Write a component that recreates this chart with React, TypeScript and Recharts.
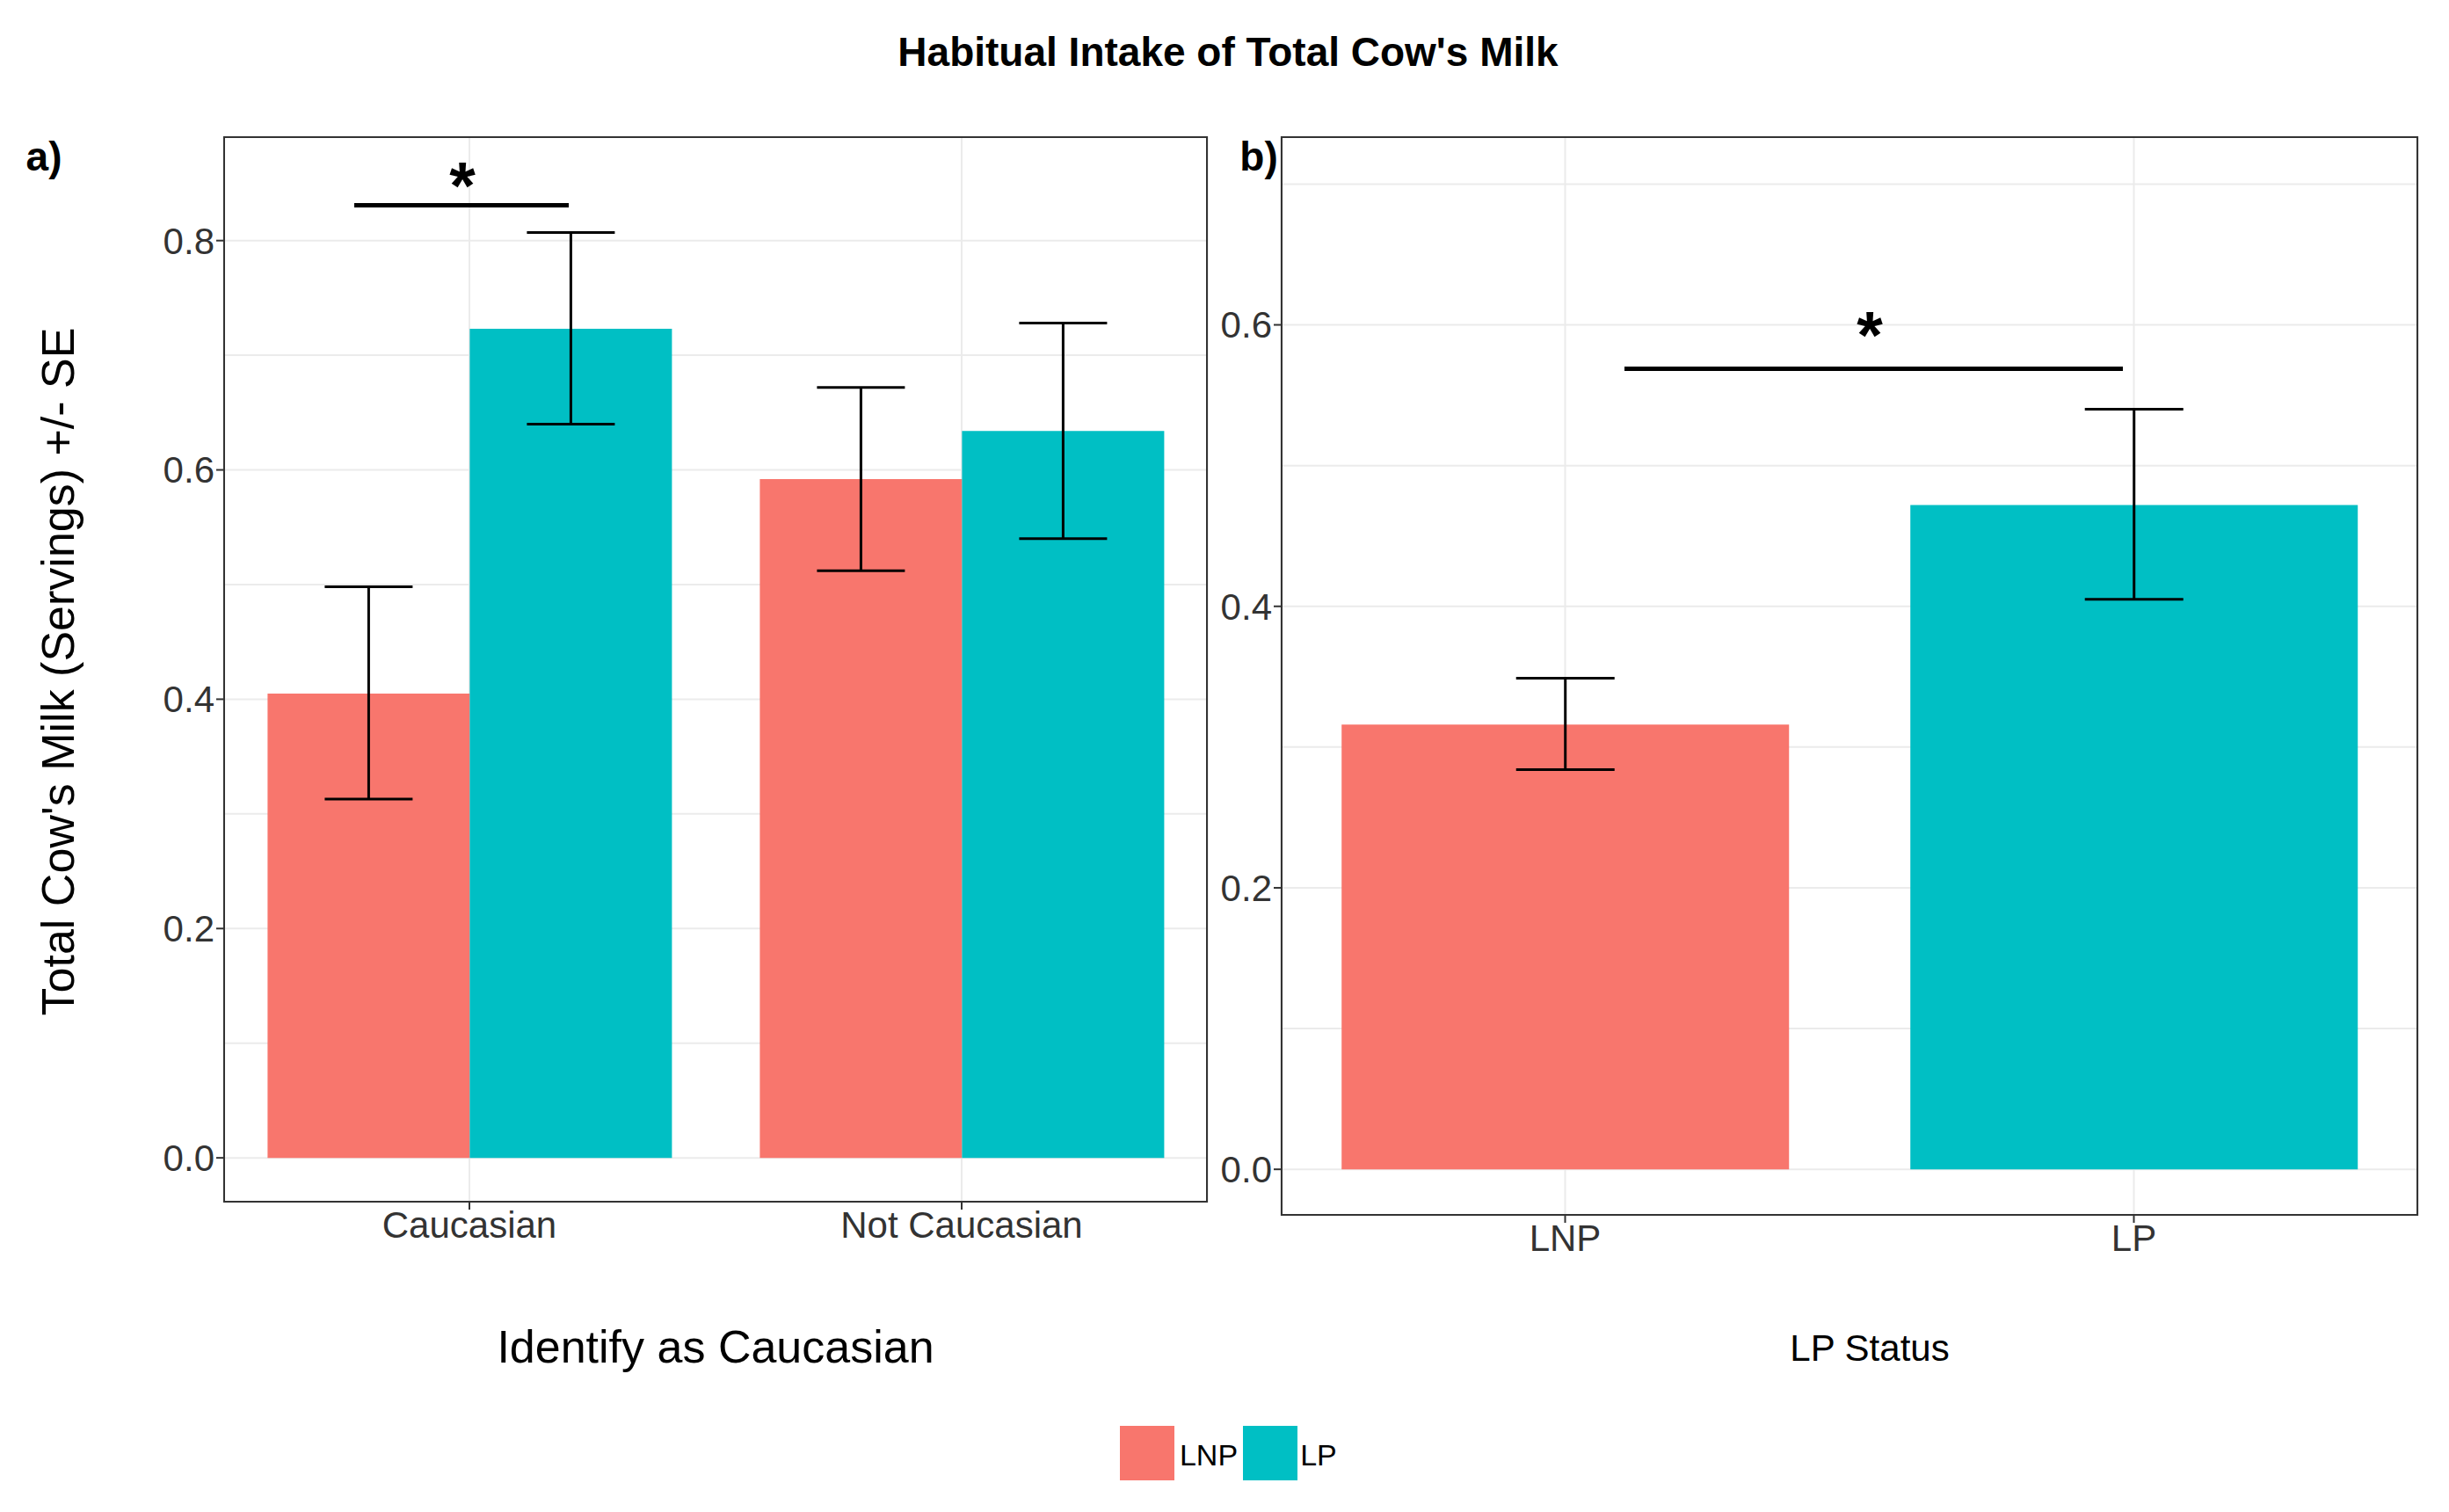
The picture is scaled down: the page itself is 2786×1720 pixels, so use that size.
import { BarChart, Bar, XAxis, YAxis, CartesianGrid, ErrorBar, Cell } from 'recharts';

const groups = ['Caucasian', 'Not Caucasian'];
const lnpMeans = [0.405, 0.592];
const lnpErr = [[0.092, 0.093], [0.08, 0.08]];
const lpMeans = [0.723, 0.634];
const lpErr = [[0.083, 0.084], [0.094, 0.094]];

const statusLabels = ['LNP', 'LP'];
const statusMeans = [0.316, 0.472];
const statusErr = [[0.032, 0.033], [0.067, 0.068]];

const aTicks = [0, 0.2, 0.4, 0.6, 0.8];
const aGrid = [0, 0.1, 0.2, 0.3, 0.4, 0.5, 0.6, 0.7, 0.8];
const bTicks = [0, 0.2, 0.4, 0.6];
const bGrid = [0, 0.1, 0.2, 0.3, 0.4, 0.5, 0.6, 0.7];

const RED = '#f8766d';
const TEAL = '#00bfc4';
const FONT = '"Liberation Sans", Arial, sans-serif';

const dataA = groups.map((g, i) => ({ group: g, LNP: lnpMeans[i], LP: lpMeans[i], lnpErr: lnpErr[i], lpErr: lpErr[i] }));
const dataB = statusLabels.map((s, i) => ({ status: s, value: statusMeans[i], err: statusErr[i] }));

const tick = { fill: '#333', fontSize: 42, fontFamily: FONT };
const text = (x: number, y: number, s: string, size: number, extra: any = {}) => (
  <div style={{ position: 'absolute', left: x, top: y, transform: 'translate(-50%,-50%)', fontSize: size, fontFamily: FONT, whiteSpace: 'nowrap', color: '#000', ...extra }}>{s}</div>
);

export default function App() {
  return (
    <div style={{ position: 'absolute', left: 0, top: 0, width: 2786, height: 1720, background: '#fff', overflow: 'hidden' }}>
      <div style={{ position: 'absolute', left: 0, top: 0 }}>
        <BarChart width={1400} height={1720} data={dataA} margin={{ top: 155, right: 26, left: 154, bottom: 272 }} barCategoryGap="9%" barGap={0}>
          <CartesianGrid stroke="#ebebeb" strokeWidth={2} horizontalValues={aGrid} />
          <XAxis dataKey="group" height={80} tick={tick} tickLine={{ stroke: '#333', strokeWidth: 2 }} tickSize={8} axisLine={false} />
          <YAxis domain={[-0.039, 0.891]} ticks={aTicks} width={100} tick={tick} tickFormatter={(v: number) => v.toFixed(1)} tickLine={{ stroke: '#333', strokeWidth: 2 }} tickSize={8} axisLine={false} allowDataOverflow />
          <Bar dataKey="LNP" fill={RED} isAnimationActive={false}>
            <ErrorBar dataKey="lnpErr" width={50} stroke="#000" strokeWidth={3} />
          </Bar>
          <Bar dataKey="LP" fill={TEAL} isAnimationActive={false}>
            <ErrorBar dataKey="lpErr" width={50} stroke="#000" strokeWidth={3} />
          </Bar>
        </BarChart>
      </div>
      <div style={{ position: 'absolute', left: 1300, top: 0 }}>
        <BarChart width={1486} height={1720} data={dataB} margin={{ top: 155, right: 35, left: 57, bottom: 257 }} barCategoryGap="10.7%">
          <CartesianGrid stroke="#ebebeb" strokeWidth={2} horizontalValues={bGrid} />
          <XAxis dataKey="status" height={80} tick={tick} tickLine={{ stroke: '#333', strokeWidth: 2 }} tickSize={8} axisLine={false} />
          <YAxis domain={[-0.033, 0.734]} ticks={bTicks} width={100} tick={tick} tickFormatter={(v: number) => v.toFixed(1)} tickLine={{ stroke: '#333', strokeWidth: 2 }} tickSize={8} axisLine={false} allowDataOverflow />
          <Bar dataKey="value" isAnimationActive={false}>
            {dataB.map((d, i) => <Cell key={d.status} fill={i === 0 ? RED : TEAL} />)}
            <ErrorBar dataKey="err" width={56} stroke="#000" strokeWidth={3} />
          </Bar>
        </BarChart>
      </div>
      {/* panel frames */}
      <div style={{ position: 'absolute', left: 254, top: 155, width: 1120, height: 1213, border: '2px solid #333', boxSizing: 'border-box' }} />
      <div style={{ position: 'absolute', left: 1457, top: 155, width: 1294, height: 1228, border: '2px solid #333', boxSizing: 'border-box' }} />
      {/* significance */}
      <div style={{ position: 'absolute', left: 403, top: 231, width: 244, height: 5, background: '#000' }} />
      {text(526, 210, '*', 76, { fontWeight: 'bold' })}
      <div style={{ position: 'absolute', left: 1848, top: 417, width: 567, height: 5, background: '#000' }} />
      {text(2127, 380, '*', 76, { fontWeight: 'bold' })}
      {text(1397, 59, "Habitual Intake of Total Cow's Milk", 46, { fontWeight: 'bold' })}
      {text(50, 178, 'a)', 46, { fontWeight: 'bold' })}
      {text(1432, 178, 'b)', 46, { fontWeight: 'bold' })}
      {text(66, 764, "Total Cow's Milk (Servings) +/- SE", 52, { transform: 'translate(-50%,-50%) rotate(-90deg)' })}
      {text(814, 1532, 'Identify as Caucasian', 52)}
      {text(2127, 1534, 'LP Status', 42)}
      {/* legend */}
      <div style={{ position: 'absolute', left: 1274, top: 1622, width: 62, height: 62, background: RED }} />
      <div style={{ position: 'absolute', left: 1414, top: 1622, width: 62, height: 62, background: TEAL }} />
      {text(1375, 1655, 'LNP', 34)}
      {text(1500, 1655, 'LP', 34)}
    </div>
  );
}
